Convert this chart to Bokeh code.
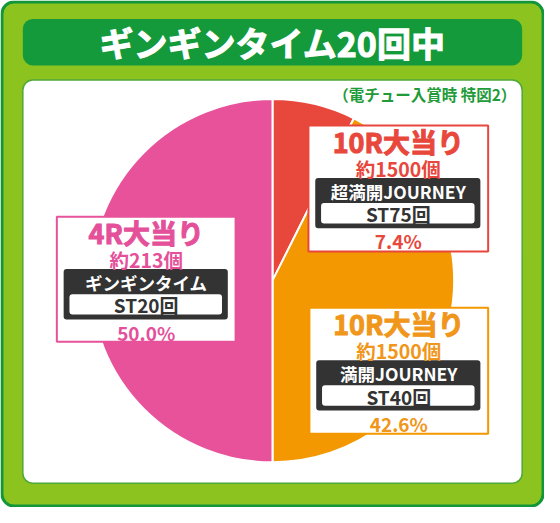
import math
from bokeh.plotting import figure
from bokeh.models import ColumnDataSource, Range1d, BoxAnnotation, Quad, Text
from bokeh.core.properties import value
from bokeh.embed import file_html
from bokeh.resources import INLINE

# ---- data ----
title = "ギンギンタイム20回中"
subtitle = "（電チュー入賞時 特図2）"
rounds = ["10R大当り", "10R大当り", "4R大当り"]
payouts = ["約1500個", "約1500個", "約213個"]
modes = ["超満開JOURNEY", "満開JOURNEY", "ギンギンタイム"]
st_counts = ["ST75回", "ST40回", "ST20回"]
shares = [7.4, 42.6, 50.0]
slice_colors = ["#e8473c", "#f39800", "#e8529a"]
text_colors = ["#e8473c", "#f0961a", "#e4509a"]

FONT = value("Noto Sans CJK JP")
W, H = 560, 523
HAS_OUTLINE = "text_outline_color" in Text.properties()


def Y(v):
    return H - v


p = figure(width=544, height=507, x_range=Range1d(0, W), y_range=Range1d(0, H),
           output_backend="svg", toolbar_location=None, min_border=0,
           x_axis_location=None, y_axis_location=None)
p.grid.visible = False
p.outline_line_color = None
p.background_fill_color = "white"
p.border_fill_color = "white"

# ---- frame ----
p.add_layout(BoxAnnotation(left=1.5, right=558.5, bottom=Y(521.5), top=Y(1.5),
                           fill_color="#8cc31e", fill_alpha=1, line_color="#12963a",
                           line_alpha=1, line_width=3, border_radius=12, level="underlay"))
p.add_layout(BoxAnnotation(left=23, right=537, bottom=Y(67), top=Y(19),
                           fill_color="#14993b", fill_alpha=1, line_color=None,
                           border_radius=10, level="underlay"))
p.add_layout(BoxAnnotation(left=23, right=537, bottom=Y(498), top=Y(82),
                           fill_color="white", fill_alpha=1, line_color="#4ea83a",
                           line_alpha=1, line_width=1.5, border_radius=10, level="underlay"))

title_extra = dict(text_outline_color="white") if HAS_OUTLINE else {}
p.text(x=[280], y=[Y(43)], text=[title], text_font=FONT, text_font_style="bold",
       text_font_size="34px", text_color="white", text_align="center",
       text_baseline="middle", **title_extra)
p.text(x=[531], y=[Y(96)], text=[subtitle], text_font=FONT, text_font_style="bold",
       text_font_size="15.5px", text_color="#1f9b3a", text_align="right",
       text_baseline="middle")

# ---- pie ----
starts, ends = [], []
cum = 0.0
for s in shares:
    starts.append(math.pi / 2 - 2 * math.pi * cum / 100)
    cum += s
    ends.append(math.pi / 2 - 2 * math.pi * cum / 100)
pie = ColumnDataSource(dict(x=[280] * len(shares), y=[Y(289)] * len(shares),
                            start=starts, end=ends, color=slice_colors))
p.wedge(x="x", y="y", radius=187, start_angle="start", end_angle="end",
        direction="clock", fill_color="color", line_color="white", line_width=2,
        source=pie)

# ---- label boxes ----
boxes = [(317, 502, 129, 259), (318, 502, 317, 447), (58, 242, 223, 352)]
lefts = [b[0] for b in boxes]
rights = [b[1] for b in boxes]
tops = [b[2] for b in boxes]
cx = [(b[0] + b[1]) / 2 for b in boxes]

rr = {}
if "border_radius" in Quad.properties():
    rr = dict(border_radius=3)

p.quad(left=lefts, right=rights, top=[Y(t) for t in tops],
       bottom=[Y(b[3]) for b in boxes], fill_color="white",
       line_color=slice_colors, line_width=2)
p.quad(left=[l + 7 for l in lefts], right=[r - 8 for r in rights],
       top=[Y(t + 54) for t in tops], bottom=[Y(t + 106) for t in tops],
       fill_color="#333333", line_color=None, **rr)
p.quad(left=[l + 13 for l in lefts], right=[r - 14 for r in rights],
       top=[Y(t + 80) for t in tops], bottom=[Y(t + 101) for t in tops],
       fill_color="white", line_color=None, **rr)


def label_row(texts, dy, size, colors, outline=False):
    src = ColumnDataSource(dict(x=cx, y=[Y(t + dy) for t in tops], t=texts, c=colors))
    extra = dict(text_outline_color="c") if (HAS_OUTLINE and outline) else {}
    p.text(x="x", y="y", text="t", text_color="c", source=src, text_font=FONT,
           text_font_style="bold", text_font_size=size, text_align="center",
           text_baseline="middle", **extra)


label_row(rounds, 16, "27px", text_colors, outline=True)
label_row(payouts, 44, "19.5px", text_colors)
label_row(modes, 68, "17.5px", ["white"] * 3)
label_row(st_counts, 91, "19px", ["#333333"] * 3)
label_row([f"{s:.1f}%" for s in shares], 119, "19px", text_colors)

open("out.html", "w").write(file_html(p, INLINE))
